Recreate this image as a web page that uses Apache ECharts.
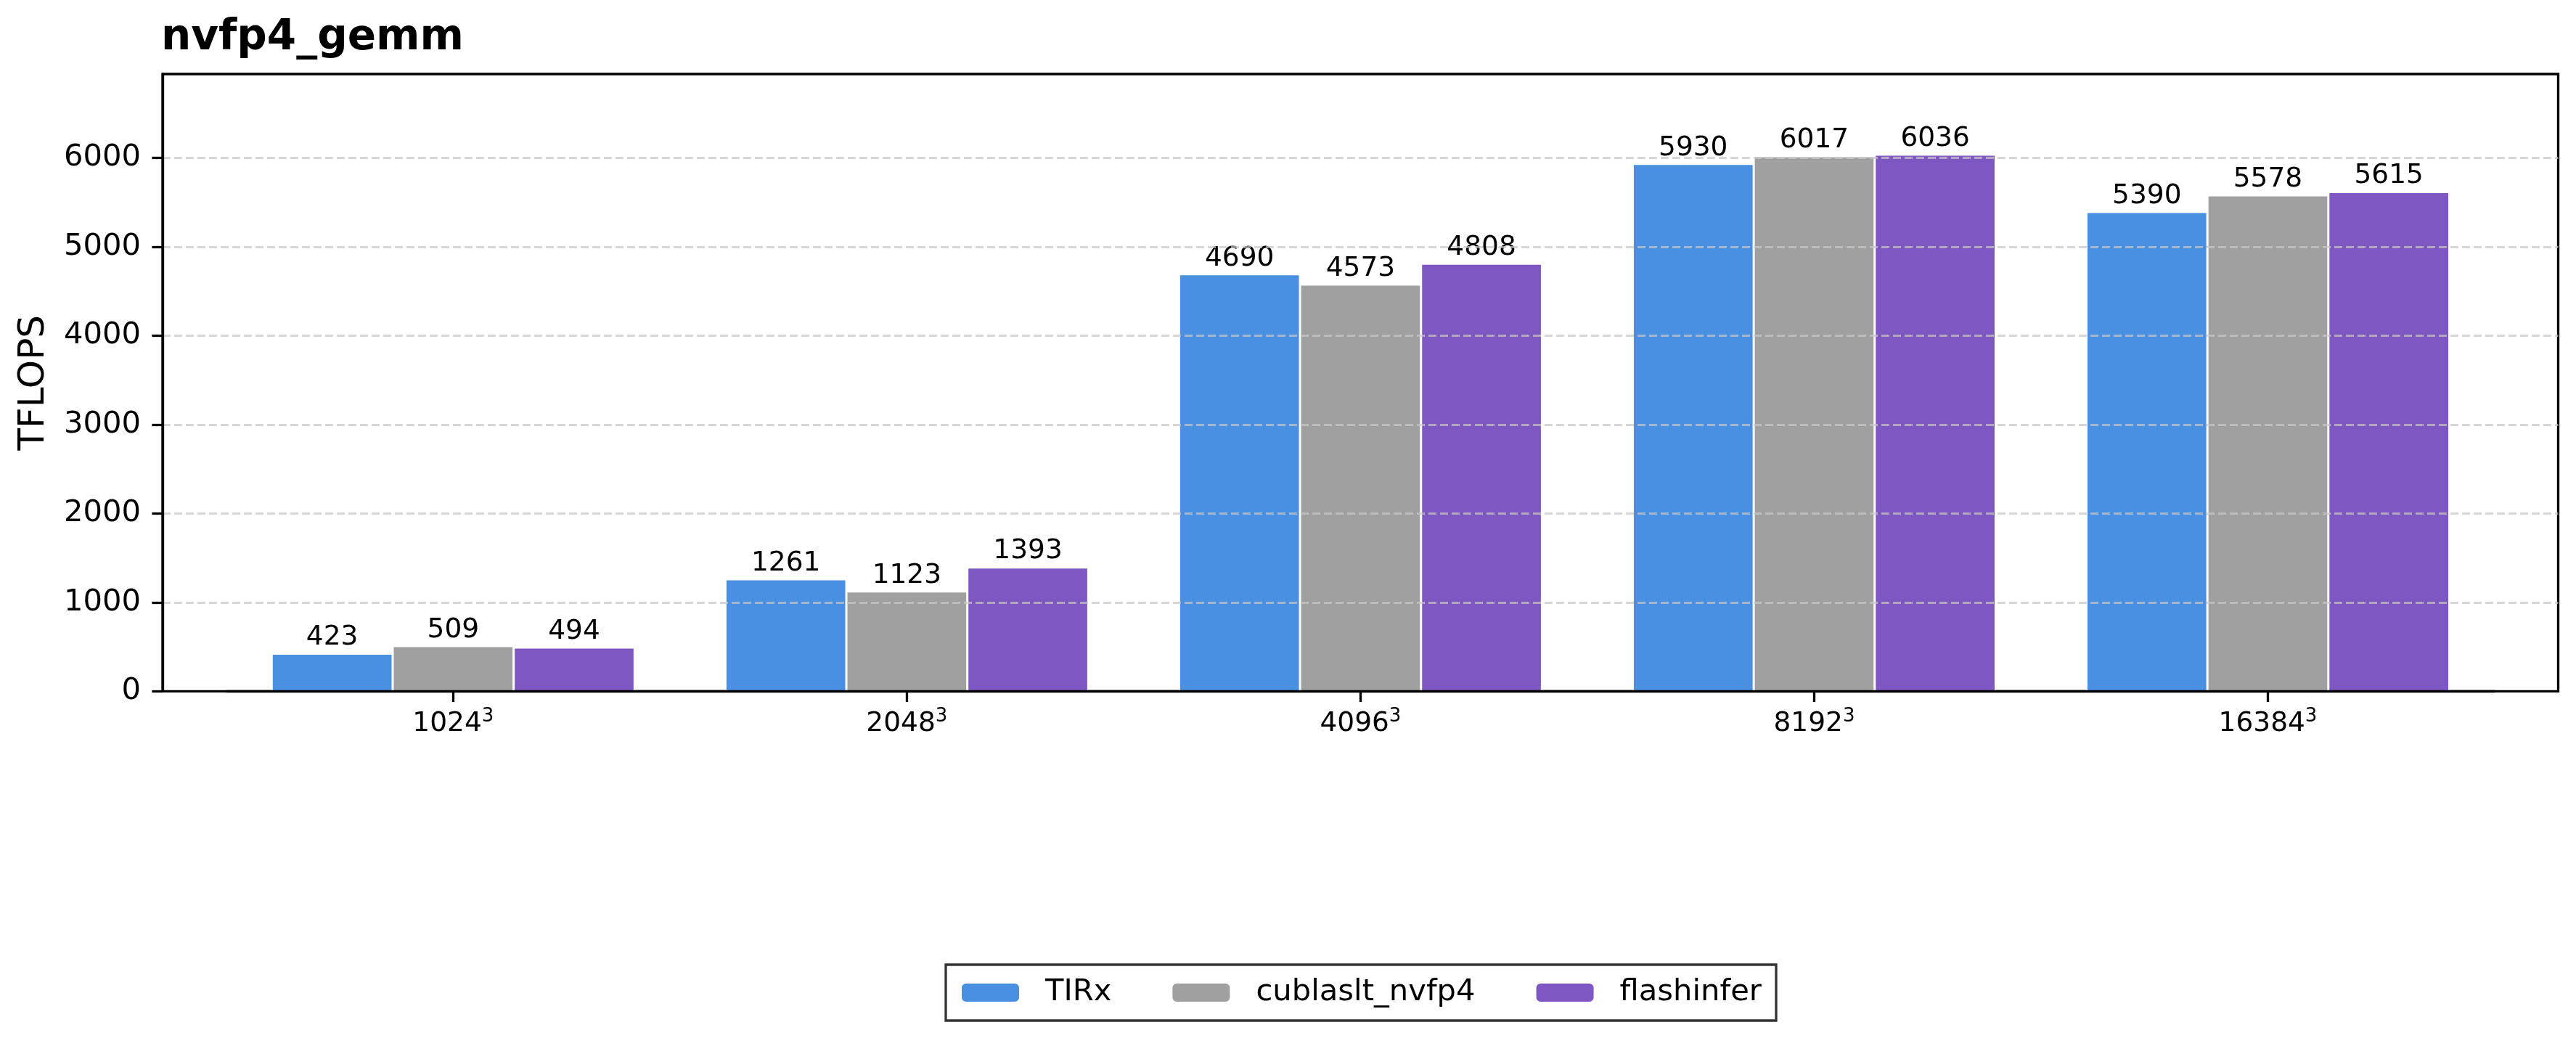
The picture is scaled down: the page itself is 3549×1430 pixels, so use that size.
<!DOCTYPE html>
<html>
<head>
<meta charset="utf-8">
<script src="https://cdn.jsdelivr.net/npm/echarts@6/dist/echarts.min.js"></script>
<style>
  html, body { margin: 0; padding: 0; background: #fff; }
  #echart { width: 3549px; height: 1430px; }
</style>
</head>
<body>
<div id="echart"></div>
<script>
// matrix sizes (M=N=K), shown as size^3
const sizes = ['1024', '2048', '4096', '8192', '16384'];
const tirx = [423, 1261, 4690, 5930, 5390];
const cublaslt = [509, 1123, 4573, 6017, 5578];
const flashinfer = [494, 1393, 4808, 6036, 5615];
const yTicks = [0, 1000, 2000, 3000, 4000, 5000, 6000];
const yMax = 6941;

const colors = ['#4A90E2', '#A0A0A0', '#7E57C2'];
const font = 'DejaVu Sans';

const chartDom = document.getElementById('echart');
const myChart = echarts.init(chartDom, null, { renderer: 'canvas' });

const barLabel = {
  show: true,
  position: 'top',
  distance: 3,
  color: '#000',
  fontFamily: font,
  fontSize: 37.5
};

function barSeries(name, data) {
  return {
    name: name,
    type: 'bar',
    xAxisIndex: 1,
    yAxisIndex: 1,
    barGap: '0%',
    barCategoryGap: '20%',
    itemStyle: { borderColor: '#fff', borderWidth: 1.5 },
    label: barLabel,
    data: data
  };
}

const option = {
  animation: false,
  color: colors,
  backgroundColor: '#fff',
  textStyle: { fontFamily: font },
  title: {
    text: 'nvfp4_gemm',
    left: 222,
    top: 24,
    padding: 0,
    textStyle: { fontFamily: font, fontWeight: 'bold', fontSize: 58, color: '#000' }
  },
  legend: {
    data: ['TIRx', 'cublaslt_nvfp4', 'flashinfer'],
    left: 1303,
    top: 1329,
    orient: 'horizontal',
    padding: [17, 20, 17, 20],
    itemWidth: 81,
    itemHeight: 27,
    itemGap: 82,
    borderColor: '#333',
    borderWidth: 3.3,
    borderRadius: 0,
    textStyle: {
      fontFamily: font,
      fontSize: 41.7,
      color: '#000',
      lineHeight: 43,
      padding: [0, 0, 0, 30]
    }
  },
  grid: [
    // outer frame: y axis, gridlines, border
    { left: 224, right: 24.5, top: 102, bottom: 477.6, show: true, borderColor: '#000', borderWidth: 3.3, backgroundColor: 'transparent' },
    // inner grid for the bars (matplotlib x margins)
    { left: 311.8, right: 112, top: 102, bottom: 477.6 }
  ],
  xAxis: [
    { gridIndex: 0, type: 'value', min: 0, max: 1, show: false },
    {
      gridIndex: 1,
      type: 'category',
      data: sizes,
      z: 4,
      axisLine: { show: true, onZero: false, lineStyle: { color: '#000', width: 3.3 } },
      axisTick: { show: true, alignWithLabel: true, length: 14.6, lineStyle: { color: '#000', width: 3.3 } },
      axisLabel: {
        margin: 22,
        color: '#000',
        formatter: v => '{n|' + v + '}{s|3}',
        rich: {
          n: { fontFamily: font, fontSize: 37.5, lineHeight: 45, color: '#000' },
          s: { fontFamily: font, fontSize: 26, lineHeight: 26, verticalAlign: 'top', color: '#000' }
        }
      },
      splitLine: { show: false }
    }
  ],
  yAxis: [
    {
      gridIndex: 0,
      type: 'value',
      min: yTicks[0],
      max: yMax,
      interval: 1000,
      z: 3,
      name: 'TFLOPS',
      nameLocation: 'middle',
      nameGap: 152,
      nameTextStyle: { fontFamily: font, fontSize: 50, color: '#000' },
      axisLine: { show: true, lineStyle: { color: '#000', width: 3.3 } },
      axisTick: { show: true, length: 14.6, lineStyle: { color: '#000', width: 3.3 } },
      axisLabel: {
        margin: 30,
        fontFamily: font,
        fontSize: 41.7,
        color: '#000',
        showMaxLabel: false,
        formatter: v => (yTicks.indexOf(v) >= 0 ? String(v) : '')
      },
      splitLine: {
        show: true,
        showMinLine: false,
        showMaxLine: false,
        lineStyle: { color: 'rgba(200,200,200,0.7)', width: 3, type: [11, 5] }
      }
    },
    { gridIndex: 1, type: 'value', min: yTicks[0], max: yMax, show: false, splitLine: { show: false } }
  ],
  series: [
    barSeries('TIRx', tirx),
    barSeries('cublaslt_nvfp4', cublaslt),
    barSeries('flashinfer', flashinfer)
  ]
};

option && myChart.setOption(option);
</script>
</body>
</html>
